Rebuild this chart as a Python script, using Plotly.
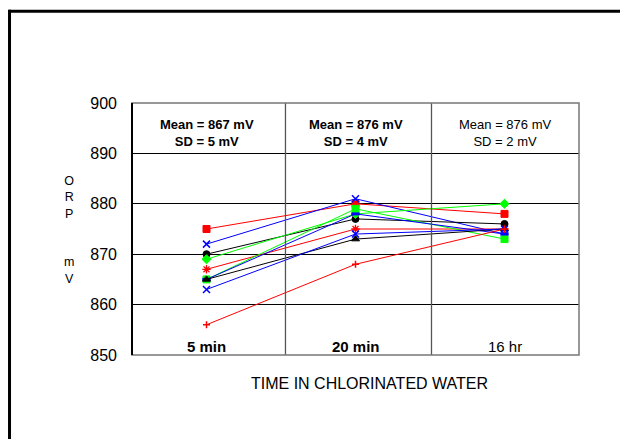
import plotly.graph_objects as go

# categories on the x axis
times = ["5 min", "20 min", "16 hr"]
time_labels = ["<b>5 min</b>", "<b>20 min</b>", "16 hr"]

# ORP readings (mV) for each specimen
orp_a = [875, 880, 878]
orp_b = [872, 881, 874]
orp_c = [870, 877, 876]
orp_d = [869, 878, 880]
orp_e = [867, 875, 875]
orp_f = [865, 879, 873]
orp_g = [865, 873, 875]
orp_h = [865, 878, 874]
orp_i = [863, 874, 875]
orp_j = [856, 868, 875]

# summary stats per time
mean_mv = [867, 876, 876]
sd_mv = [5, 4, 2]

FONT = "Liberation Sans, Arial, sans-serif"

series = [
    (orp_a, "red", "square", 7, 1),
    (orp_b, "blue", "x-thin-open", 7, 1.5),
    (orp_c, "black", "circle", 7, 1),
    (orp_d, "#00FF00", "diamond", 7, 1),
    (orp_e, "red", "asterisk-open", 7, 1.3),
    (orp_f, "#00FF00", "square", 7, 1),
    (orp_h, "blue", "line-ew-open", 6, 3),
    (orp_g, "black", "triangle-up", 7, 1),
    (orp_i, "blue", "x-thin-open", 7, 1.5),
    (orp_j, "red", "cross-thin-open", 5, 1.5),
]

fig = go.Figure()
for vals, col, sym, sz, lw in series:
    fig.add_trace(go.Scatter(
        x=times, y=vals, mode="lines+markers",
        line=dict(color=col, width=1),
        marker=dict(symbol=sym, size=sz, color=col, line=dict(color=col, width=lw)),
        showlegend=False, cliponaxis=False))

# stat boxes at the top of each column
for t, m, s in zip(times, mean_mv, sd_mv):
    txt = "Mean = %d mV<br>SD = %d mV" % (m, s)
    if t != "16 hr":
        txt = "<b>" + txt + "</b>"
    fig.add_annotation(x=t, y=894.1, text=txt, showarrow=False,
                       font=dict(family=FONT, size=13, color="black"))

# time labels inside the plot near the bottom
for t, lab in zip(times, time_labels):
    fig.add_annotation(x=t, y=851.7, text=lab, showarrow=False,
                       font=dict(family=FONT, size=15, color="black"))

# axis titles
fig.add_annotation(xref="paper", yref="paper", x=-0.156, y=0.495,
                   text="O<br>R<br>P<br> <br> <br>m<br>V", showarrow=False,
                   font=dict(family=FONT, size=12.5, color="black"))
fig.add_annotation(xref="paper", yref="paper", x=0.531, y=-0.155,
                   text="TIME IN CHLORINATED WATER", showarrow=False,
                   font=dict(family=FONT, size=16, color="black"))

shapes = [
    # column dividers
    dict(type="line", xref="x", yref="paper", x0=0.53, x1=0.53, y0=0, y1=1,
         line=dict(color="#555555", width=1.3)),
    dict(type="line", xref="x", yref="paper", x0=1.51, x1=1.51, y0=0, y1=1,
         line=dict(color="#555555", width=1.3)),
    # plot border
    dict(type="rect", xref="paper", yref="paper", x0=0, x1=1, y0=0, y1=1,
         line=dict(color="#777777", width=1.5)),
    dict(type="line", xref="paper", yref="paper", x0=0, x1=0, y0=0, y1=1,
         line=dict(color="black", width=2)),
    # outer frame (top and left edges only visible)
    dict(type="line", xref="paper", yref="paper", x0=-0.276, x1=1.092, y0=1.364, y1=1.364,
         line=dict(color="black", width=3)),
    dict(type="line", xref="paper", yref="paper", x0=-0.274, x1=-0.274, y0=-0.4, y1=1.37,
         line=dict(color="black", width=3)),
]
fig.update_layout(shapes=shapes)

fig.update_xaxes(range=[-0.5, 2.5], showticklabels=False, showgrid=False,
                 zeroline=False, showline=False, ticks="")
fig.update_yaxes(range=[850, 900], dtick=10, tick0=850, showgrid=True,
                 gridcolor="black", gridwidth=1, zeroline=False, showline=False,
                 ticks="", ticklabelstandoff=14,
                 tickfont=dict(family=FONT, size=16, color="black"))

fig.update_layout(
    width=612, height=431,
    margin=dict(l=124, r=41, t=95, b=84),
    paper_bgcolor="white", plot_bgcolor="white",
    font=dict(family=FONT, color="black"),
)

fig.write_html("out.html")
